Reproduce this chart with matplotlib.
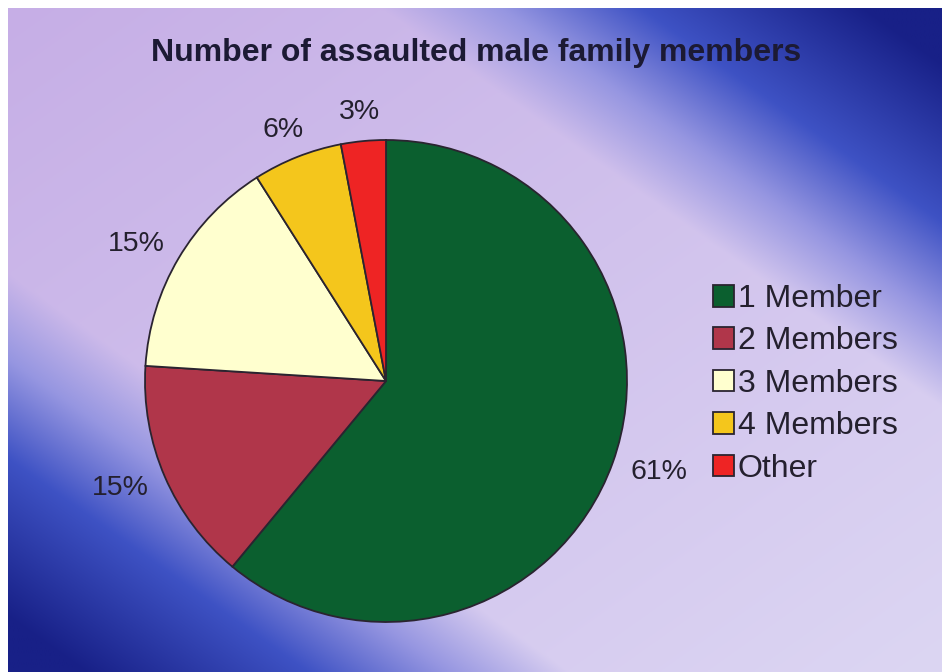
import numpy as np
import matplotlib
matplotlib.use("Agg")
import matplotlib.pyplot as plt

# ---- data ----
categories = ["1 Member", "2 Members", "3 Members", "4 Members", "Other"]
values = [61, 15, 15, 6, 3]
colors = ["#0b5f2f", "#b0364a", "#ffffcf", "#f4c61c", "#ee2424"]
title = "Number of assaulted male family members"

plt.rcParams['font.family'] = ['Liberation Sans', 'DejaVu Sans']

W, H = 942, 672
fig = plt.figure(figsize=(W / 100, H / 100), dpi=100)
fig.patch.set_facecolor("white")

# ---- gradient background ----
bg_ax = fig.add_axes([8 / W, 0, 1 - 8 / W, 1 - 8 / H])
bg_ax.set_axis_off()
h, w = 300, 420
yy, xx = np.mgrid[0:h, 0:w]
u = xx / (w - 1)
v = yy / (h - 1)
t = np.abs(u - v)
s = np.clip((u + v) / 2, 0, 1)
lav_tl = np.array([198, 174, 230]) / 255
lav_br = np.array([220, 214, 243]) / 255
lav = lav_tl[None, None, :] * (1 - s[..., None]) + lav_br[None, None, :] * s[..., None]
stops = [0.40, 0.53, 0.68, 0.92]
light_b = np.array([150, 150, 225]) / 255
mid_b = np.array([62, 82, 196]) / 255
navy = np.array([24, 32, 135]) / 255
img = np.empty((h, w, 3))
wts = np.interp(t, stops, [0, 1, 2, 3])
seg1 = np.clip(wts, 0, 1)
seg2 = np.clip(wts - 1, 0, 1)
seg3 = np.clip(wts - 2, 0, 1)
for c in range(3):
    col = lav[..., c] * (1 - seg1) + light_b[c] * seg1
    col = col * (1 - seg2) + mid_b[c] * seg2
    col = col * (1 - seg3) + navy[c] * seg3
    img[..., c] = col
bg_ax.imshow(img, aspect="auto", extent=[0, 1, 0, 1], interpolation="bilinear")

# ---- pie ----
cx, cy, r = 386, 381, 241
pie_ax = fig.add_axes([(cx - r) / W, (H - cy - r) / H, 2 * r / W, 2 * r / H])
pie_ax.set_facecolor("none")
wedges, texts, autotexts = pie_ax.pie(
    values, colors=colors, startangle=90, counterclock=False,
    autopct=lambda p: f"{p:.0f}%", pctdistance=1.1, radius=1,
    wedgeprops=dict(edgecolor="#2a2430", linewidth=1.3),
    textprops=dict(fontsize=20.5, color="#24202e"))
pie_ax.set_xlim(-1, 1)
pie_ax.set_ylim(-1, 1)
pie_ax.set_aspect("equal")
pie_ax.set_axis_off()

# place percentage labels just outside the rim, pushed out by their size
fig.canvas.draw()
renderer = fig.canvas.get_renderer()
for wdg, txt in zip(wedges, autotexts):
    th = np.deg2rad((wdg.theta1 + wdg.theta2) / 2)
    bb = txt.get_window_extent(renderer)
    tw, tht = bb.width / r, bb.height / r
    x = 1.06 * np.cos(th) + np.cos(th) * tw * 0.6
    y = 1.06 * np.sin(th) + np.sin(th) * tht * 0.55
    txt.set_position((x, y))
    txt.set_ha("center")
    txt.set_va("center")

# ---- title ----
fig.text(476 / W, 1 - 53 / H, title, ha="center", va="center",
         fontsize=23, fontweight="bold", color="#1c1a34")

# ---- legend ----
leg = fig.legend(wedges, categories, loc="upper left",
                 bbox_to_anchor=(713 / W, 1 - 284 / H),
                 frameon=False, fontsize=23, borderpad=0,
                 handlelength=0.66, handleheight=0.66, handletextpad=0.12,
                 labelspacing=0.39, borderaxespad=0)
for t_ in leg.get_texts():
    t_.set_color("#24202e")

fig.savefig("out.png", dpi=100)
